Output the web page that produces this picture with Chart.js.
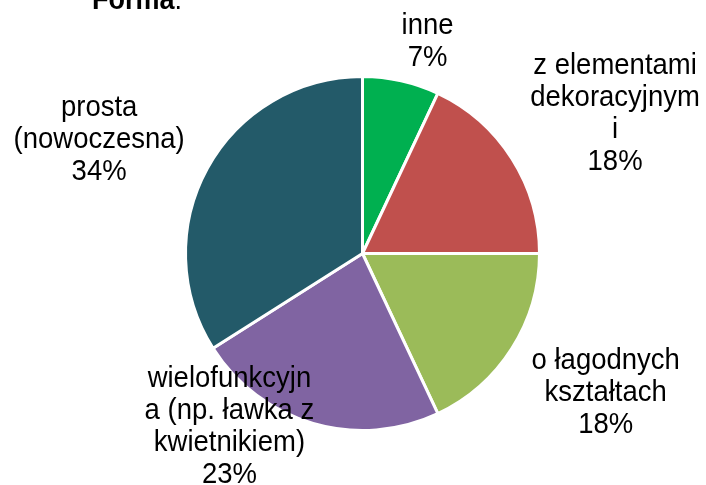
<!DOCTYPE html>
<html>
<head>
<meta charset="utf-8">
<script src="https://cdn.jsdelivr.net/npm/chart.js@4"></script>
<style>
html,body{margin:0;padding:0;background:#fff;}
#wrap{width:706px;height:485px;}
</style>
</head>
<body>
<div id="wrap"><canvas id="pie" width="706" height="485"></canvas></div>
<script>
// data
let categories = [
 ["inne"],
 ["z elementami","dekoracyjnym","i"],
 ["o łagodnych","kształtach"],
 ["wielofunkcyjn","a (np. ławka z","kwietnikiem)"],
 ["prosta","(nowoczesna)"]
];
let shares = [7, 18, 18, 23, 34];
let colors = ["#00B050","#C0504D","#9BBB59","#8064A2","#235A69"];
let titleText = "Forma";

// where each label sits: angle tweak (deg) and distance as multiple of radius
let labelNudge = [[4.5,1.25],[3.5,1.63],[-2.5,1.585],[21.3,1.235],[-5.5,1.62]];

// text in the original is a bit taller than wide
function stretchText(ctx,t,x,y){
  ctx.save();
  ctx.translate(x,y);
  ctx.scale(1,1.07);
  ctx.fillText(t,0,0);
  ctx.restore();
}

let pieLabels = {
  id:"pieLabels",
  afterDatasetsDraw(chart){
    let ctx = chart.ctx;
    let arcs = chart.getDatasetMeta(0).data;
    ctx.save();
    ctx.fillStyle = "#000";
    ctx.textAlign = "center";
    ctx.textBaseline = "middle";
    ctx.font = "27.5px 'Liberation Sans', Arial, sans-serif";
    arcs.forEach((a,i)=>{
      let p = a.getProps(["x","y","startAngle","endAngle","outerRadius"],true);
      let mid = (p.startAngle+p.endAngle)/2 + labelNudge[i][0]*Math.PI/180;
      let d = p.outerRadius*labelNudge[i][1];
      let cx = p.x + Math.cos(mid)*d, cy = p.y + Math.sin(mid)*d;
      let lines = categories[i].concat([shares[i]+"%"]);
      let lh = 32;
      lines.forEach((t,j)=>stretchText(ctx, t, cx, cy + (j-(lines.length-1)/2)*lh));
    });
    // title, partly cut off at the top like the original
    ctx.textAlign = "left";
    ctx.textBaseline = "alphabetic";
    ctx.font = "bold 27px 'Liberation Sans', Arial, sans-serif";
    stretchText(ctx, titleText, 92, 9);
    let w = ctx.measureText(titleText).width;
    ctx.font = "27px 'Liberation Sans', Arial, sans-serif";
    stretchText(ctx, ":", 92+w, 9);
    ctx.restore();
  }
};

let chart = new Chart(document.getElementById("pie"),{
  type:"pie",
  data:{
    labels:categories.map(c=>c.join(" ")),
    datasets:[{data:shares, backgroundColor:colors, borderColor:"#fff", borderWidth:3}]
  },
  options:{
    responsive:false,
    animation:false,
    layout:{padding:{left:184,right:165,top:75,bottom:53}},
    plugins:{legend:{display:false},tooltip:{enabled:false},title:{display:false}}
  },
  plugins:[pieLabels]
});
</script>
</body>
</html>
